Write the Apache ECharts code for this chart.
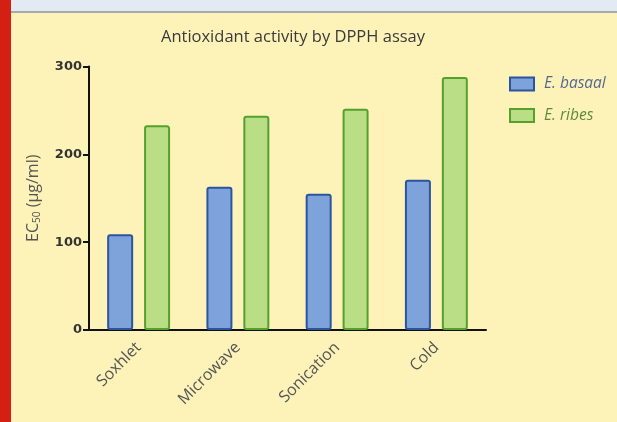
<!DOCTYPE html>
<html>
<head>
<meta charset="utf-8">
<script src="https://cdn.jsdelivr.net/npm/echarts@6/dist/echarts.min.js"></script>
<style>html,body{margin:0;padding:0;background:#fdf3b9;}#c{width:617px;height:422px;}</style>
</head>
<body>
<div id="c"></div>
<script>
const categories = ['Soxhlet', 'Microwave', 'Sonication', 'Cold'];
const basaal = [109, 163, 155, 171];
const ribes = [233, 244, 252, 288];
const yTicks = [0, 100, 200, 300];

const chart = echarts.init(document.getElementById('c'));
chart.setOption({
  backgroundColor: '#fdf3b9',
  animation: false,
  graphic: [
    { type: 'rect', shape: { x: 0, y: 0, width: 617, height: 11 }, style: { fill: '#e4eaf3' }, z: 0 },
    { type: 'rect', shape: { x: 0, y: 11, width: 617, height: 2 }, style: { fill: '#a8abae' }, z: 0 },
    { type: 'rect', shape: { x: 0, y: 0, width: 11, height: 422 }, style: { fill: '#d41f14' }, z: 1 }
  ],
  title: {
    text: 'Antioxidant activity by DPPH assay',
    left: 288, top: 24, textAlign: 'center',
    textStyle: { fontFamily: 'Open Sans', fontSize: 16.5, fontWeight: 'normal', color: '#3a3a3a' }
  },
  legend: {
    orient: 'vertical', left: 509, top: 76, padding: 0, icon: 'rect',
    itemWidth: 24, itemHeight: 13, itemGap: 15.5,
    textStyle: { fontFamily: 'Open Sans', fontStyle: 'italic', fontSize: 15.5, lineHeight: 13, padding: [0, 0, 0, 5] },
    data: [
      { name: 'E. basaal', textStyle: { color: '#55698f' } },
      { name: 'E. ribes', textStyle: { color: '#5f8a3e' } }
    ]
  },
  grid: { left: 89, right: 131, top: 66.5, bottom: 92 },
  xAxis: {
    type: 'category', data: categories,
    axisLine: { lineStyle: { color: '#111', width: 2 } },
    axisTick: { alignWithLabel: true, length: 4, lineStyle: { color: '#111', width: 2 } },
    axisLabel: { rotate: 45, fontFamily: 'Open Sans', fontSize: 16, color: '#555', margin: 15 }
  },
  yAxis: {
    type: 'value', min: 0, max: 300, interval: 100,
    name: '{a|EC}{s|50}{a| (µg/ml)}', nameLocation: 'middle', nameGap: 47, nameRotate: 90,
    nameTextStyle: { rich: {
      a: { fontFamily: 'Open Sans', fontSize: 16, color: '#555' },
      s: { fontFamily: 'Open Sans', fontSize: 10, color: '#555', verticalAlign: 'bottom', padding: [8, 0, 0, 0] }
    } },
    splitLine: { show: false },
    axisLine: { show: true, lineStyle: { color: '#111', width: 2 } },
    axisTick: { show: true, length: 6, lineStyle: { color: '#111', width: 2 } },
    axisLabel: { fontFamily: 'DejaVu Sans', fontWeight: 'bold', fontSize: 13, color: '#333', margin: 7,
      formatter: v => yTicks.includes(v) ? String(v) : '' }
  },
  series: [
    { name: 'E. basaal', type: 'bar', data: basaal, barWidth: 26, barGap: '42%',
      itemStyle: { color: '#7ea2da', borderColor: '#2c55a0', borderWidth: 2, borderRadius: 2 } },
    { name: 'E. ribes', type: 'bar', data: ribes, barWidth: 26,
      itemStyle: { color: '#bade86', borderColor: '#56a02e', borderWidth: 2, borderRadius: 2 } }
  ]
});
</script>
</body>
</html>
